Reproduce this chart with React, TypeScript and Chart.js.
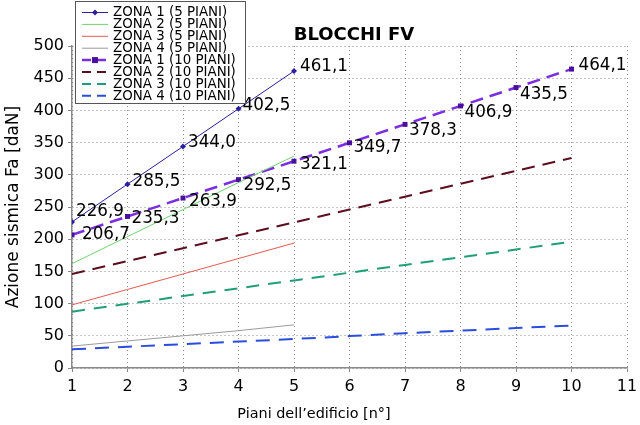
import React, { useEffect, useRef } from "react";
import { Chart, registerables } from "chart.js";

Chart.register(...registerables);

const floors5 = [1, 2, 3, 4, 5];
const floors10 = [1, 2, 3, 4, 5, 6, 7, 8, 9, 10];

const zona1Piani5 = [226.9, 285.5, 344.0, 402.5, 461.1];
const zona2Piani5 = [162, 204, 246, 288, 329];
const zona3Piani5 = [98, 122, 146, 170, 194];
const zona4Piani5 = [34, 42, 50, 58, 67];

const zona1Piani10 = [206.7, 235.3, 263.9, 292.5, 321.1, 349.7, 378.3, 406.9, 435.5, 464.1];
const zona2Piani10 = [146, 166, 186, 206, 226, 246, 266, 286, 306, 326];
const zona3Piani10 = [87.5, 99.6, 111.7, 123.8, 136, 148, 160, 172, 184, 196];
const zona4Piani10 = [29, 33, 37, 41, 45, 49.5, 54, 58, 62, 66];

const seriesNames = [
  "ZONA 1 (5 PIANI)",
  "ZONA 2 (5 PIANI)",
  "ZONA 3 (5 PIANI)",
  "ZONA 4 (5 PIANI)",
  "ZONA 1 (10 PIANI)",
  "ZONA 2 (10 PIANI)",
  "ZONA 3 (10 PIANI)",
  "ZONA 4 (10 PIANI)",
];

const chartTitle = "BLOCCHI FV";
const xAxisTitle = "Piani dell\u2019edificio [n\u00b0]";
const yAxisTitle = "Azione sismica Fa [daN]";
const xMin = 1;
const xMax = 11;
const yMin = 0;
const yMax = 500;
const yStep = 50;

const FONT = "'DejaVu Sans', Verdana, sans-serif";

// label offsets (style only) for the labelled series
const labelOffsets: Record<number, [number, number][]> = {
  0: [[4, -10], [5, -2], [5, -4], [4, -3], [6, -4]],
  4: [[10, 0], [4, 2], [6, 4], [5, 6], [6, 3], [4, 5], [4, 6], [4, 7], [4, 7], [7, -3]],
};

const toPts = (xs: number[], ys: number[]) => xs.map((x, i) => ({ x, y: ys[i] }));

const overlayPlugin = {
  id: "overlay",
  afterDatasetsDraw(chart: any) {
    const ctx = chart.ctx;
    ctx.save();
    ctx.font = `16.8px ${FONT}`;
    ctx.fillStyle = "#000";
    ctx.textAlign = "left";
    ctx.textBaseline = "middle";
    [0, 4].forEach((di) => {
      const meta = chart.getDatasetMeta(di);
      const ds = chart.data.datasets[di];
      meta.data.forEach((el: any, i: number) => {
        const v = ds.data[i].y;
        const off = (labelOffsets[di] && labelOffsets[di][i]) || [5, 0];
        ctx.fillText(v.toFixed(1).replace(".", ","), el.x + off[0], el.y + off[1]);
      });
    });
    ctx.restore();
  },
  afterDraw(chart: any) {
    const ctx = chart.ctx;
    ctx.save();
    // title
    ctx.fillStyle = "#000";
    ctx.font = `bold 18px ${FONT}`;
    ctx.textAlign = "center";
    ctx.textBaseline = "middle";
    ctx.fillText(chartTitle, 354, 35);
    // x axis title
    ctx.font = `14.4px ${FONT}`;
    ctx.fillText(xAxisTitle, 314, 414);

    // legend
    const bx = 75.5, by = 1.5, bw = 170, bh = 102;
    ctx.fillStyle = "#fff";
    ctx.fillRect(bx, by, bw, bh);
    ctx.strokeStyle = "#555";
    ctx.lineWidth = 1;
    ctx.strokeRect(bx, by, bw, bh);
    ctx.font = `13.4px ${FONT}`;
    ctx.textAlign = "left";
    ctx.textBaseline = "middle";
    chart.data.datasets.forEach((ds: any, i: number) => {
      const y = 12.5 + i * 11.9;
      ctx.save();
      ctx.strokeStyle = ds.borderColor;
      ctx.lineWidth = Math.min(ds.borderWidth, 2.5);
      ctx.setLineDash(ds.borderDash ? [9, 6] : []);
      ctx.beginPath();
      ctx.moveTo(82, y);
      ctx.lineTo(108, y);
      ctx.stroke();
      ctx.setLineDash([]);
      if (ds.pointRadius > 0) {
        ctx.fillStyle = ds.pointBackgroundColor;
        if (ds.pointStyle === "rect") {
          ctx.fillRect(95 - 3, y - 3, 6, 6);
        } else {
          ctx.beginPath();
          ctx.moveTo(95, y - 3);
          ctx.lineTo(98, y);
          ctx.lineTo(95, y + 3);
          ctx.lineTo(92, y);
          ctx.closePath();
          ctx.fill();
        }
      }
      ctx.restore();
      ctx.fillStyle = "#000";
      ctx.fillText(seriesNames[i], 113, y + 0.5);
    });
    ctx.restore();
  },
};

export default function App() {
  const ref = useRef<HTMLCanvasElement | null>(null);

  useEffect(() => {
    if (!ref.current) return;
    const chart = new Chart(ref.current, {
      type: "line",
      data: {
        datasets: [
          {
            label: seriesNames[0],
            data: toPts(floors5, zona1Piani5),
            borderColor: "#2b1f9e",
            backgroundColor: "#2b1f9e",
            borderWidth: 1,
            pointStyle: "rectRot",
            pointRadius: 3,
            pointBackgroundColor: "#2b1f9e",
            pointBorderWidth: 0,
          },
          {
            label: seriesNames[1],
            data: toPts(floors5, zona2Piani5),
            borderColor: "#6fd36f",
            borderWidth: 1,
            pointRadius: 0,
          },
          {
            label: seriesNames[2],
            data: toPts(floors5, zona3Piani5),
            borderColor: "#e65a50",
            borderWidth: 1,
            pointRadius: 0,
          },
          {
            label: seriesNames[3],
            data: toPts(floors5, zona4Piani5),
            borderColor: "#9a9a9a",
            borderWidth: 1,
            pointRadius: 0,
          },
          {
            label: seriesNames[4],
            data: toPts(floors10, zona1Piani10),
            borderColor: "#7b2ee0",
            borderWidth: 2.5,
            borderDash: [13, 7],
            pointStyle: "rect",
            pointRadius: 3.5,
            pointBackgroundColor: "#4a0f9c",
            pointBorderWidth: 0,
          },
          {
            label: seriesNames[5],
            data: toPts(floors10, zona2Piani10),
            borderColor: "#5c0d1e",
            borderWidth: 2,
            borderDash: [13, 8],
            pointRadius: 0,
          },
          {
            label: seriesNames[6],
            data: toPts(floors10, zona3Piani10),
            borderColor: "#1f9f78",
            borderWidth: 2,
            borderDash: [13, 9],
            pointRadius: 0,
          },
          {
            label: seriesNames[7],
            data: toPts(floors10, zona4Piani10),
            borderColor: "#2a4de0",
            borderWidth: 2,
            borderDash: [14, 9],
            pointRadius: 0,
          },
        ] as any,
      },
      options: {
        responsive: false,
        animation: false,
        layout: { padding: { top: 46, right: 13, left: 0, bottom: 0 } },
        plugins: {
          legend: { display: false },
          title: { display: false },
          tooltip: { enabled: false },
        },
        elements: { line: { tension: 0 } },
        scales: {
          x: {
            type: "linear",
            min: xMin,
            max: xMax,
            afterFit: (s: any) => {
              s.height = 57;
              s.paddingRight = 0;
              s.paddingLeft = 0;
            },
            ticks: {
              stepSize: 1,
              color: "#000",
              font: { family: FONT, size: 16 },
              padding: 5,
              maxRotation: 0,
            },
            grid: {
              color: "#8a8a8a",
              lineWidth: 1,
              tickLength: 4,
              tickColor: "#8a8a8a",
              tickBorderDash: [],
            },
            border: { display: true, color: "#8a8a8a", width: 1.5, dash: [1, 3] },
          },
          y: {
            type: "linear",
            min: yMin,
            max: yMax,
            afterFit: (s: any) => {
              s.width = 72;
              s.paddingTop = 0;
              s.paddingBottom = 0;
            },
            ticks: {
              stepSize: yStep,
              color: "#000",
              font: { family: FONT, size: 16 },
              padding: 4,
            },
            title: {
              display: true,
              text: yAxisTitle,
              color: "#000",
              font: { family: FONT, size: 17 },
              padding: { top: 3, bottom: 2 },
            },
            grid: {
              color: "#8a8a8a",
              lineWidth: 1,
              tickLength: 4,
              tickColor: "#8a8a8a",
              tickBorderDash: [],
            },
            border: { display: true, color: "#8a8a8a", width: 1.5, dash: [1, 3] },
          },
        },
      } as any,
      plugins: [overlayPlugin],
    });
    return () => chart.destroy();
  }, []);

  return (
    <div style={{ position: "fixed", left: 0, top: 0, width: 640, height: 425, background: "#fff" }}>
      <canvas ref={ref} width={640} height={425} style={{ display: "block" }} />
    </div>
  );
}
